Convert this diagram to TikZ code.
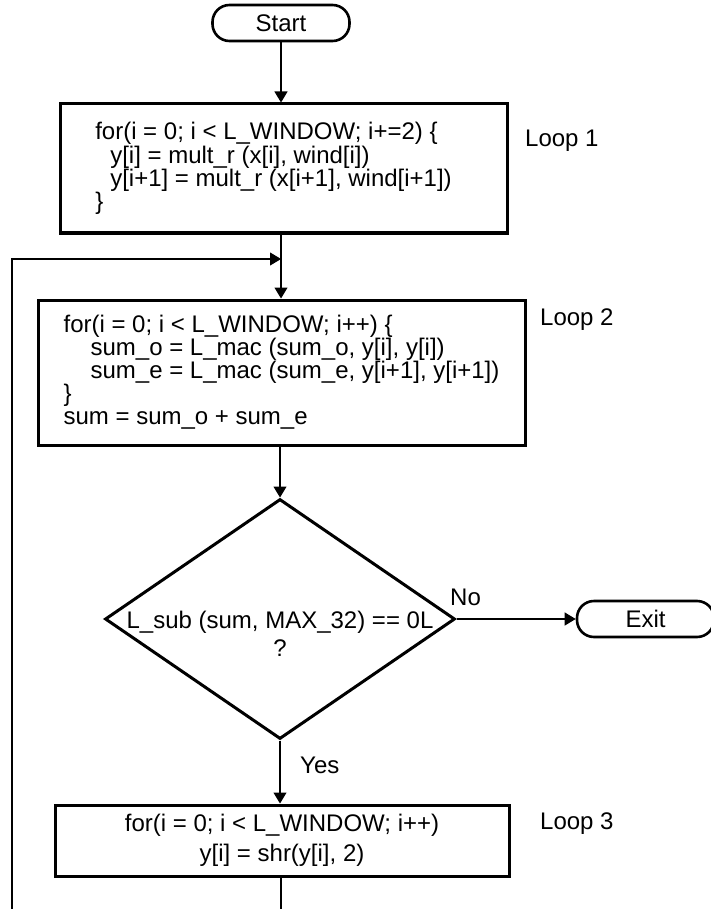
\documentclass[tikz,border=0pt]{standalone}
\usepackage{fontspec}
\setmainfont{Liberation Sans}
\usetikzlibrary{shapes.geometric,arrows.meta}

\begin{document}
\begin{tikzpicture}[
    x=1pt, y=-1pt,
    every node/.style={font=\fontsize{24}{24}\selectfont, inner sep=0pt},
    flow line/.style={line width=1.1pt},
    flow arrow/.style={flow line, -{Triangle[length=11pt,width=13pt]}},
    loop box/.style={draw, line width=3pt, rectangle},
    terminal/.style={draw, line width=2.6pt, rectangle, rounded corners=17pt,
        minimum width=137pt, minimum height=36pt},
    decision/.style={draw, line width=3pt, diamond,
        minimum width=350pt, minimum height=240pt},
    loop label/.style={anchor=base west}
]
    \useasboundingbox (0,0) rectangle (710,909);

    % Definitions
    \def\axis{281}
    \def\back{12}

    % Terminals
    \node[terminal] (start) at (\axis,23) {Start};
    \node[terminal] (exit) at (645.5,619) {Exit};

    % Loop 1
    \node[loop box, minimum width=447pt, minimum height=129pt, align=left,
        font=\fontsize{24}{22}\selectfont] (loopone) at (283.5,168.5)
        {for(i = 0; i < L\_WINDOW; i+=2) \{\\
         \hspace*{15pt}y[i] = mult\_r (x[i], wind[i])\\
         \hspace*{15pt}y[i+1] = mult\_r (x[i+1], wind[i+1])\hspace*{20pt}\null\\
         \}};
    \node[loop label] (labelone) at (525,147) {Loop 1};

    % Loop 2
    \node[loop box, minimum width=487pt, minimum height=145pt, align=left,
        font=\fontsize{24}{23}\selectfont] (looptwo) at (281.5,372.5)
        {for(i = 0; i < L\_WINDOW; i++) \{\\
         \hspace*{27pt}sum\_o = L\_mac (sum\_o, y[i], y[i])\\
         \hspace*{27pt}sum\_e = L\_mac (sum\_e, y[i+1], y[i+1])\\
         \}\\
         sum = sum\_o + sum\_e};
    \node[loop label] (labeltwo) at (540,325) {Loop 2};

    % Test
    \node[decision] (test) at (280,619) {};
    \node[align=center, font=\fontsize{24}{28}\selectfont] (testtext) at (280,634)
        {L\_sub (sum, MAX\_32) == 0L\\?};
    \node[anchor=base west] (no) at (450,605) {No};
    \node[anchor=base west] (yes) at (300,773) {Yes};

    % Loop 3
    \node[loop box, minimum width=454pt, minimum height=71pt, align=center,
        font=\fontsize{24}{30}\selectfont] (loopthree) at (282,840.5)
        {for(i = 0; i < L\_WINDOW; i++)\\
         y[i] = shr(y[i], 2)};
    \node[loop label] (labelthree) at (540,829) {Loop 3};

    % Flow
    \coordinate (join) at (\axis,259);
    \coordinate (backtop) at (\back,259);
    \coordinate (backbottom) at (\back,909);
    \coordinate (outbottom) at (\axis,909);

    \draw[flow arrow] (start.south) -- (start.south |- loopone.north);
    \draw[flow arrow] (start.south |- loopone.south) -- (start.south |- looptwo.north);
    \draw[flow arrow] (backbottom) -- (backtop) -- (join);
    \draw[flow arrow] (test.north |- looptwo.south) -- (test.north);
    \draw[flow arrow] (test.south) -- (test.south |- loopthree.north);
    \draw[flow arrow] (test.east) -- (exit.west);
    \draw[flow line] (loopthree.south -| start) -- (outbottom);
\end{tikzpicture}
\end{document}
